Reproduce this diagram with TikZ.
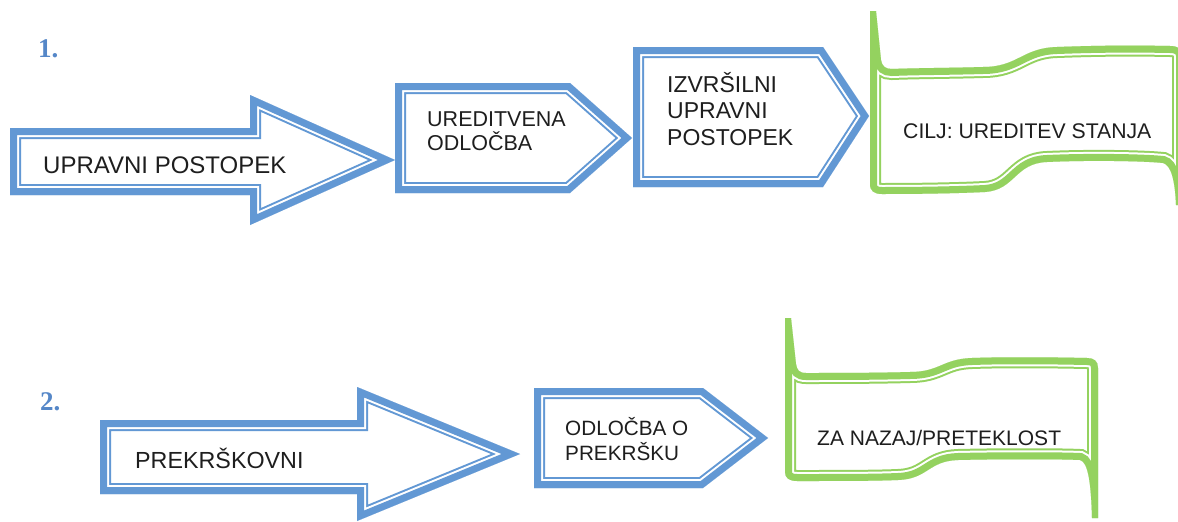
\documentclass[tikz,border=0pt]{standalone}
\usepackage{fontspec}
\setmainfont{Liberation Sans}
\newfontfamily\numfont{Liberation Serif}
\definecolor{bordblue}{RGB}{98,152,212}
\definecolor{bordgreen}{RGB}{148,210,95}
\definecolor{numblue}{RGB}{85,135,200}
\definecolor{txtgray}{RGB}{30,30,30}
\newcommand\dblborder[2]{%
  \begin{scope}
    \path[clip] #2;
    \fill[white] #2;
    \draw[#1, line width=22pt, line join=miter] #2;
    \draw[white, line width=18pt, line join=miter] #2;
    \draw[#1, line width=14pt, line join=miter] #2;
  \end{scope}}
\tikzset{
  lbl/.style={anchor=base west, inner sep=0pt, text=txtgray, align=left},
  numlbl/.style={anchor=base west, inner sep=0pt, text=numblue,
    font={\numfont\bfseries\fontsize{27}{27}\selectfont}}
}
\begin{document}
\begin{tikzpicture}[x=1pt,y=-1pt]
\useasboundingbox (0,0) rectangle (1178,522);
\fill[white] (0,0) rectangle (1178,522);

% numbers
\node[numlbl] (n1) at (38,57) {1.};
\node[numlbl] (n2) at (40,410) {2.};

% row 1
\dblborder{bordblue}{(10,128) -- (250,128) -- (250,95) -- (395,160) -- (250,225) -- (250,195) -- (10,195) -- cycle}
\dblborder{bordblue}{(395,83) -- (570,83) -- (632,138) -- (570,193) -- (395,193) -- cycle}
\dblborder{bordblue}{(633,47) -- (823,47) -- (869,116) -- (823,187) -- (633,187) -- cycle}
\dblborder{bordgreen}{(870,11) -- (870,184) .. controls (870,191) and (874,194) .. (882,194) .. controls (930,194) and (965,193) .. (985,192) .. controls (1015,190) and (1015,163) .. (1047,162) .. controls (1090,160) and (1145,161) .. (1163,163) .. controls (1171,165) and (1175,180) .. (1176,205) -- (1183,205) -- (1183,56) .. controls (1183,49) and (1178,46) .. (1170,46) .. controls (1120,45) and (1085,46) .. (1057,47) .. controls (1022,48) and (1018,67) .. (983,67) .. controls (950,68) and (915,68) .. (892,69) .. controls (885,69) and (882,66) .. (881,60) -- (876,11) -- cycle}

\node[lbl, font={\fontsize{24}{28}\selectfont}] (t1) at (43,173) {UPRAVNI POSTOPEK};
\node[lbl, font={\fontsize{21.5}{24}\selectfont}] (t2) at (427,150) {UREDITVENA\\ODLOČBA};
\node[lbl, font={\fontsize{23}{26.5}\selectfont}] (t3) at (667,145) {IZVRŠILNI\\UPRAVNI\\POSTOPEK};
\node[lbl, font={\fontsize{21.2}{24}\selectfont}] (t4) at (903,138) {CILJ: UREDITEV STANJA};

% row 2
\dblborder{bordblue}{(100,420) -- (357,420) -- (357,387) -- (520,454) -- (357,521) -- (357,494) -- (100,494) -- cycle}
\dblborder{bordblue}{(534,388) -- (703,388) -- (768,438) -- (703,488) -- (534,488) -- cycle}
\dblborder{bordgreen}{(785,318) -- (785,472) .. controls (785,478) and (789,481) .. (797,481) .. controls (840,481) and (875,481) .. (898,480) .. controls (928,479) and (928,461) .. (958,460) .. controls (1000,459) and (1060,459) .. (1080,460) .. controls (1088,462) and (1091,482) .. (1092,518) -- (1098,518) -- (1098,368) .. controls (1098,361) and (1094,358) .. (1087,358) .. controls (1040,357) and (1000,357) .. (972,358) .. controls (942,359) and (940,372) .. (910,372) .. controls (875,373) and (830,373) .. (806,373) .. controls (799,373) and (797,370) .. (796,364) -- (791,318) -- cycle}

\node[lbl, font={\fontsize{23.3}{27}\selectfont}] (t5) at (135,468) {PREKRŠKOVNI};
\node[lbl, font={\fontsize{20.7}{25}\selectfont}] (t6) at (565,460) {ODLOČBA O\\PREKRŠKU};
\node[lbl, font={\fontsize{21}{24}\selectfont}] (t7) at (817,445) {ZA NAZAJ/PRETEKLOST};
\end{tikzpicture}
\end{document}
